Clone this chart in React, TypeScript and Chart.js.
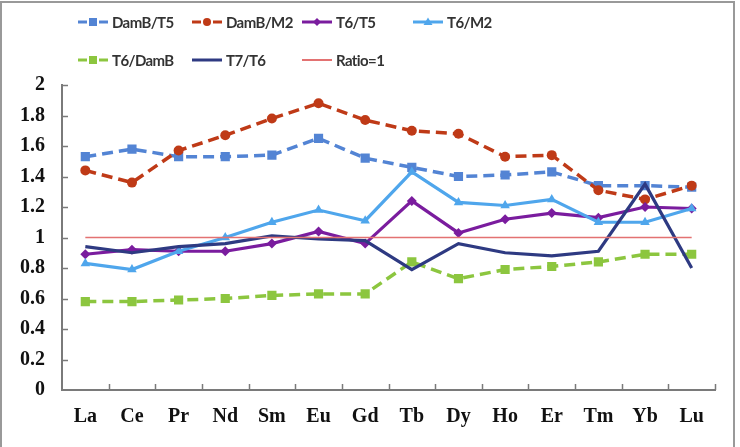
import React, { useEffect, useRef } from "react";
import { Chart, registerables } from "chart.js";

Chart.register(...registerables);

const categories = ["La", "Ce", "Pr", "Nd", "Sm", "Eu", "Gd", "Tb", "Dy", "Ho", "Er", "Tm", "Yb", "Lu"];
const yTicks = [0, 0.2, 0.4, 0.6, 0.8, 1, 1.2, 1.4, 1.6, 1.8, 2];

const dambT5 = [1.53, 1.58, 1.53, 1.53, 1.54, 1.65, 1.52, 1.46, 1.40, 1.41, 1.43, 1.34, 1.34, 1.33];
const dambM2 = [1.44, 1.36, 1.57, 1.67, 1.78, 1.88, 1.77, 1.70, 1.68, 1.53, 1.54, 1.31, 1.25, 1.34];
const t6T5 = [0.89, 0.92, 0.91, 0.91, 0.96, 1.04, 0.96, 1.24, 1.03, 1.12, 1.16, 1.13, 1.20, 1.19];
const t6M2 = [0.83, 0.79, 0.91, 1.00, 1.10, 1.18, 1.11, 1.43, 1.23, 1.21, 1.25, 1.10, 1.10, 1.19];
const t6DamB = [0.58, 0.58, 0.59, 0.60, 0.62, 0.63, 0.63, 0.84, 0.73, 0.79, 0.81, 0.84, 0.89, 0.89];
const t7T6 = [0.94, 0.90, 0.94, 0.96, 1.01, 0.99, 0.98, 0.79, 0.96, 0.90, 0.88, 0.91, 1.35, 0.80];
const ratio1 = [1, 1, 1, 1, 1, 1, 1, 1, 1, 1, 1, 1, 1, 1];

const seriesLabels = ["DamB/T5", "DamB/M2", "T6/T5", "T6/M2", "T6/DamB", "T7/T6", "Ratio=1"];
const seriesColors = ["#5384D4", "#BF3A17", "#7A1C9E", "#4FA6EC", "#8CC63F", "#2E3A82", "#E37272"];

type Spec = {
  data: number[];
  dash: number[];
  point: string | false;
  radius: number;
  width: number;
};

const specs: Spec[] = [
  { data: dambT5, dash: [11, 6], point: "rect", radius: 6.5, width: 3.5 },
  { data: dambM2, dash: [11, 6], point: "circle", radius: 5, width: 3.5 },
  { data: t6T5, dash: [], point: "rectRot", radius: 5, width: 3.2 },
  { data: t6M2, dash: [], point: "triangle", radius: 5.5, width: 3.2 },
  { data: t6DamB, dash: [11, 6], point: "rect", radius: 6.5, width: 3.5 },
  { data: t7T6, dash: [], point: false, radius: 0, width: 3.2 },
  { data: ratio1, dash: [], point: false, radius: 0, width: 1.5 },
];

const legendPos = [
  { x: 78, y: 22 },
  { x: 192, y: 22 },
  { x: 302, y: 22 },
  { x: 413, y: 22 },
  { x: 78, y: 60 },
  { x: 192, y: 60 },
  { x: 302, y: 60 },
];

function Marker({ kind, color, dashed, thin }: { kind: string | false; color: string; dashed: boolean; thin: boolean }) {
  let shape: React.ReactNode = null;
  if (kind === "rect") shape = <rect x={11} y={3} width={8} height={8} fill={color} />;
  if (kind === "circle") shape = <circle cx={15} cy={7} r={4} fill={color} />;
  if (kind === "rectRot") shape = <polygon points="15,3 19,7 15,11 11,7" fill={color} />;
  if (kind === "triangle") shape = <polygon points="15,2.5 19.5,10 10.5,10" fill={color} />;
  return (
    <svg width={30} height={14} style={{ display: "block" }}>
      {dashed ? (
        <>
          <line x1={0} y1={7} x2={9} y2={7} stroke={color} strokeWidth={3} />
          <line x1={21} y1={7} x2={30} y2={7} stroke={color} strokeWidth={3} />
        </>
      ) : (
        <line x1={0} y1={7} x2={30} y2={7} stroke={color} strokeWidth={thin ? 2 : 3} />
      )}
      {shape}
    </svg>
  );
}

export default function App() {
  const canvasRef = useRef<HTMLCanvasElement | null>(null);

  useEffect(() => {
    const canvas = canvasRef.current;
    if (!canvas) return;

    const innerTicks = {
      id: "innerTicks",
      beforeDatasetsDraw(chart: any) {
        const ctx = chart.ctx;
        const { left, right, bottom } = chart.chartArea;
        const ys = chart.scales.y;
        ctx.save();
        ctx.strokeStyle = "#7a7a7a";
        ctx.lineWidth = 1.5;
        const n = categories.length;
        const w = (right - left) / n;
        for (let i = 1; i <= n; i++) {
          const x = Math.round(left + i * w) + 0.5;
          ctx.beginPath();
          ctx.moveTo(x, bottom);
          ctx.lineTo(x, bottom - 6);
          ctx.stroke();
        }
        yTicks.forEach((v) => {
          if (v === 0) return;
          const y = Math.round(ys.getPixelForValue(v)) + 0.5;
          ctx.beginPath();
          ctx.moveTo(left, y);
          ctx.lineTo(left + 6, y);
          ctx.stroke();
        });
        ctx.restore();
      },
    };

    const chart = new Chart(canvas, {
      type: "line",
      data: {
        labels: categories,
        datasets: specs.map((s, i) => ({
          label: seriesLabels[i],
          data: s.data,
          borderColor: seriesColors[i],
          backgroundColor: seriesColors[i],
          borderWidth: s.width,
          borderDash: s.dash,
          pointStyle: s.point as any,
          pointRadius: s.radius,
          pointBorderWidth: 0,
          pointBackgroundColor: seriesColors[i],
          pointBorderColor: seriesColors[i],
          tension: 0,
          fill: false,
          order: specs.length - i,
        })),
      },
      options: {
        animation: false,
        responsive: false,
        devicePixelRatio: 1,
        layout: { padding: { top: 85, right: 25, left: 0, bottom: 0 } },
        plugins: {
          legend: { display: false },
          tooltip: { enabled: false },
        },
        scales: {
          x: {
            type: "category",
            offset: true,
            grid: { display: false, drawTicks: false },
            border: { display: true, color: "#7a7a7a", width: 2 },
            ticks: {
              padding: 15,
              color: "#111",
              font: { family: "'Liberation Serif', 'Times New Roman', serif", size: 20, weight: "bold" },
            },
            afterFit: (scale: any) => {
              scale.height = 57;
            },
          },
          y: {
            min: 0,
            max: 2,
            afterBuildTicks: (scale: any) => {
              scale.ticks = yTicks.map((v) => ({ value: v }));
            },
            grid: { display: false, drawTicks: false },
            border: { display: true, color: "#7a7a7a", width: 2 },
            ticks: {
              padding: 17,
              color: "#111",
              font: { family: "'Liberation Serif', 'Times New Roman', serif", size: 20, weight: "bold" },
              callback: (v: any) => String(Number(Number(v).toFixed(1))),
            },
            afterFit: (scale: any) => {
              scale.width = 62;
            },
          },
        },
      },
      plugins: [innerTicks],
    });

    return () => chart.destroy();
  }, []);

  return (
    <div style={{ position: "fixed", left: 0, top: 0, width: 740, height: 447, background: "#fff", overflow: "hidden" }}>
      <canvas ref={canvasRef} width={740} height={447} style={{ position: "absolute", left: 0, top: 0 }} />
      <div
        style={{
          position: "absolute",
          left: 0,
          top: 1,
          width: 731,
          height: 470,
          border: "2px solid #999",
          pointerEvents: "none",
        }}
      />
      {seriesLabels.map((lab, i) => (
        <div
          key={lab}
          style={{
            position: "absolute",
            left: legendPos[i].x,
            top: legendPos[i].y - 10,
            height: 20,
            display: "flex",
            alignItems: "center",
            gap: 4,
            fontFamily: "Lato, 'Open Sans', sans-serif",
            fontWeight: 700,
            fontSize: 15,
            letterSpacing: -0.6,
            color: "#333",
            whiteSpace: "nowrap",
          }}
        >
          <Marker kind={specs[i].point} color={seriesColors[i]} dashed={specs[i].dash.length > 0} thin={i === 6} />
          <span>{lab}</span>
        </div>
      ))}
    </div>
  );
}
